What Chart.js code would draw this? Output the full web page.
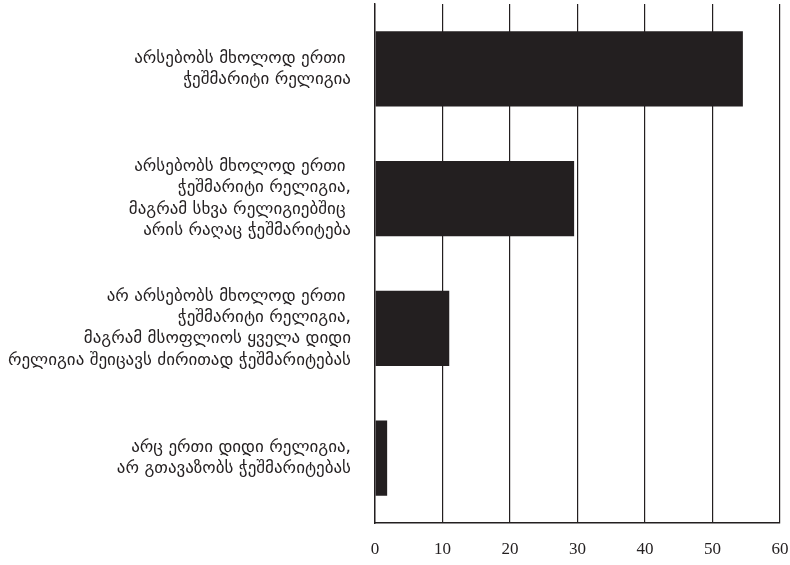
<!DOCTYPE html>
<html>
<head>
<meta charset="utf-8">
<script src="https://cdn.jsdelivr.net/npm/chart.js@4"></script>
<style>
  html, body { margin: 0; padding: 0; background: #fff; }
  #wrap { width: 790px; height: 565px; }
</style>
</head>
<body>
<div id="wrap"><canvas id="chart"></canvas></div>
<script>
const categories = [
  ['არსებობს მხოლოდ ერთი ', 'ჭეშმარიტი რელიგია'],
  ['არსებობს მხოლოდ ერთი ', 'ჭეშმარიტი რელიგია,', 'მაგრამ სხვა რელიგიებშიც ', 'არის რაღაც ჭეშმარიტება'],
  ['არ არსებობს მხოლოდ ერთი ', 'ჭეშმარიტი რელიგია,', 'მაგრამ მსოფლიოს ყველა დიდი', 'რელიგია შეიცავს ძირითად ჭეშმარიტებას'],
  ['არც ერთი დიდი რელიგია,', 'არ გთავაზობს ჭეშმარიტებას']
];
const values = [54.5, 29.5, 11, 1.8];
const xTicks = [0, 10, 20, 30, 40, 50, 60];

const ink = '#231f20';

new Chart(document.getElementById('chart'), {
  type: 'bar',
  data: {
    labels: categories,
    datasets: [{
      data: values,
      backgroundColor: ink,
      borderWidth: 0,
      barPercentage: 0.58,
      categoryPercentage: 1
    }]
  },
  options: {
    indexAxis: 'y',
    responsive: true,
    maintainAspectRatio: false,
    animation: false,
    layout: { padding: { top: 4, bottom: 6, left: 0, right: 0 } },
    plugins: { legend: { display: false }, tooltip: { enabled: false } },
    scales: {
      x: {
        min: xTicks[0],
        max: xTicks[xTicks.length - 1],
        afterBuildTicks: (scale) => { scale.ticks = xTicks.map(v => ({ value: v })); },
        afterFit: (scale) => {
          scale.height = 36;
          scale.paddingRight = 10;
        },
        grid: { color: ink, lineWidth: 1.2, drawTicks: false },
        border: { display: true, color: ink, width: 1.6 },
        ticks: {
          color: ink,
          padding: 16,
          maxRotation: 0,
          font: { family: 'Liberation Serif', size: 17 }
        }
      },
      y: {
        grid: { display: false, drawTicks: false },
        border: { display: true, color: ink, width: 1.4 },
        afterFit: (scale) => {
          scale.width = 375;
          scale.paddingTop = 0;
          scale.paddingBottom = 0;
        },
        ticks: {
          color: ink,
          padding: 24,
          font: { family: 'DejaVu Sans', size: 17, lineHeight: 1.25 }
        }
      }
    }
  }
});
</script>
</body>
</html>
